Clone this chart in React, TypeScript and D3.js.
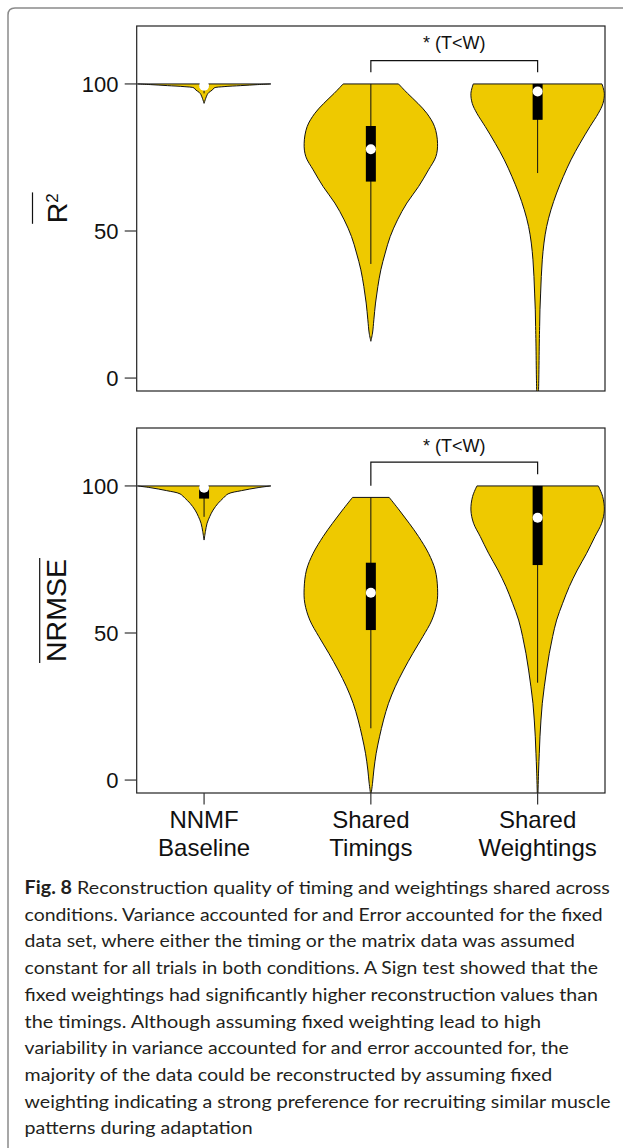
import React from "react";
import * as d3 from "d3";

// categories on the x axis (two lines each)
const categories = [
  ["NNMF", "Baseline"],
  ["Shared", "Timings"],
  ["Shared", "Weightings"],
];
const yTicks = [0, 50, 100];

// violin outlines: [value, relative half width]
const r2Baseline = [
  [100, 1.0], [99.77, 0.8], [99.43, 0.55], [99.09, 0.3], [98.64, 0.15],
  [97.96, 0.125], [97.17, 0.075], [96.48, 0.05], [95.13, 0.025], [93.4, 0],
];
const r2Timings = [
  [100, 0.415], [96.8, 0.55], [93.4, 0.705], [90.0, 0.84], [85.5, 0.955],
  [79.8, 1.0], [75.3, 0.975], [70.8, 0.865], [65.1, 0.715], [59.5, 0.54],
  [53.8, 0.4], [48.1, 0.29], [42.5, 0.215], [36.8, 0.15], [31.1, 0.105],
  [25.5, 0.07], [19.8, 0.045], [15.3, 0.025], [12.5, 0],
];
const r2Weightings = [
  [100, 0.965], [96.8, 1.0], [93.4, 0.98], [90.0, 0.91], [85.5, 0.785],
  [79.8, 0.635], [74.2, 0.5], [68.5, 0.385], [62.9, 0.285], [57.2, 0.2],
  [51.5, 0.135], [45.9, 0.095], [40.2, 0.07], [34.5, 0.055], [28.9, 0.045],
  [23.2, 0.035], [17.5, 0.03], [11.9, 0.025], [0, 0.018], [-6, 0.012],
];
const nrmseBaseline = [
  [100, 1.0], [99.43, 0.81], [98.4, 0.56], [97.3, 0.36], [95.8, 0.285],
  [94.1, 0.21], [91.8, 0.135], [89.6, 0.085], [87.3, 0.045], [84.5, 0.02], [81.6, 0],
];
const nrmseTimings = [
  [96.1, 0.275], [91.8, 0.425], [87.3, 0.575], [82.8, 0.715], [77.1, 0.865],
  [71.4, 0.965], [65.2, 1.0], [60.1, 0.99], [54.4, 0.915], [48.8, 0.78],
  [43.1, 0.63], [37.4, 0.49], [31.7, 0.365], [26.1, 0.265], [20.4, 0.19],
  [14.7, 0.13], [9.1, 0.08], [3.4, 0.045], [-1.1, 0.025], [-4.6, 0.005],
];
const nrmseWeightings = [
  [100, 0.91], [96.4, 0.975], [91.8, 1.0], [87.3, 0.96], [82.8, 0.86],
  [77.1, 0.735], [71.4, 0.595], [65.8, 0.475], [60.1, 0.375], [54.4, 0.285],
  [48.8, 0.225], [43.1, 0.175], [37.4, 0.135], [31.7, 0.1], [26.1, 0.07],
  [20.4, 0.05], [14.7, 0.035], [9.1, 0.025], [3.4, 0.015], [-4.6, 0.005],
];

// boxplot stats: [q1, median, q3, whisker low, whisker high]
const r2Boxes = [
  [99.1, 99.4, 100, 96.8, 100],
  [66.8, 77.8, 85.7, 38.8, 100],
  [87.8, 97.4, 100, 69.7, 100],
];
const nrmseBoxes = [
  [95.7, 99.4, 100, 89.5, 100],
  [51.0, 63.7, 73.9, 17.6, 96.1],
  [73.1, 89.2, 100, 33.1, 100],
];

// significance bracket: [left leg end, bar, right leg end, label]
const r2Bracket = [104, 107.9, 104, 111.8];
const nrmseBracket = [100.1, 108.1, 104, 111.7];
const sigLabel = "* (T<W)";

const captionLines = [
  "Reconstruction quality of timing and weightings shared across",
  "conditions. Variance accounted for and Error accounted for the fixed",
  "data set, where either the timing or the matrix data was assumed",
  "constant for all trials in both conditions. A Sign test showed that the",
  "fixed weightings had significantly higher reconstruction values than",
  "the timings. Although assuming fixed weighting lead to high",
  "variability in variance accounted for and error accounted for, the",
  "majority of the data could be reconstructed by assuming fixed",
  "weighting indicating a strong preference for recruiting similar muscle",
  "patterns during adaptation",
];
const captionWidths = [585.3, 578.1, 550.3, 573.3, 573.3, 516.5, 544.3, 527.6, 586, 228.1];

const W = 623;
const H = 1148;
const plotLeft = 136.7;
const plotRight = 605;
const panelHeight = 365;
const yDomain = [-4.4, 119.7];
const halfWidth = 0.4;
const gold = "#EEC900";
const font = "'Liberation Sans', Arial, Helvetica, sans-serif";

const x = d3.scaleLinear().domain([0.596, 3.404]).range([plotLeft, plotRight]);

function Panel({ id, top, profiles, boxes, bracket, showX, title }) {
  const y = d3.scaleLinear().domain(yDomain).range([top + panelHeight, top]);
  const area = (pos) =>
    d3
      .area()
      .y((d) => y(d[0]))
      .x0((d) => x(pos - d[1] * halfWidth))
      .x1((d) => x(pos + d[1] * halfWidth))
      .curve(d3.curveCatmullRom);
  const midY = top + panelHeight / 2;
  const [legL, bar, legR, lab] = bracket;

  return (
    <g>
      <clipPath id={id}>
        <rect x={plotLeft} y={top} width={plotRight - plotLeft} height={panelHeight} />
      </clipPath>
      <g clipPath={`url(#${id})`}>
        {profiles.map((p, i) => (
          <path key={i} d={area(i + 1)(p)} fill={gold} stroke="#111" strokeWidth={1} strokeLinejoin="round" />
        ))}
        {boxes.map((b, i) => {
          const cx = x(i + 1);
          return (
            <g key={i}>
              <line x1={cx} x2={cx} y1={y(b[3])} y2={y(b[4])} stroke="#111" strokeWidth={1} />
              <rect x={cx - 5} y={y(b[2])} width={10} height={y(b[0]) - y(b[2])} fill="#000" />
              <circle cx={cx} cy={y(b[1])} r={5} fill="#fff" />
            </g>
          );
        })}
      </g>
      <rect x={plotLeft} y={top} width={plotRight - plotLeft} height={panelHeight} fill="none" stroke="#222" strokeWidth={1.2} />
      {yTicks.map((t) => (
        <g key={t}>
          <line x1={plotLeft - 12} x2={plotLeft} y1={y(t)} y2={y(t)} stroke="#333" strokeWidth={1.2} />
          <text x={118.5} y={y(t)} dy="0.36em" textAnchor="end" fontSize={22} fontFamily={font} fill="#111">
            {t}
          </text>
        </g>
      ))}
      <path
        d={`M${x(2)},${y(legL)}V${y(bar)}H${x(3)}V${y(legR)}`}
        fill="none"
        stroke="#111"
        strokeWidth={1.2}
      />
      <text x={(x(2) + x(3)) / 2} y={y(lab)} textAnchor="middle" fontSize={18} fontFamily={font} fill="#111">
        {sigLabel}
      </text>
      {title === "R2" ? (
        <g transform={`translate(66.5,${midY - 0.3}) rotate(-90)`} fontFamily={font} fill="#111">
          <text x={0} y={0} textAnchor="middle" fontSize={28.5}>
            R<tspan fontSize={17} dy={-8.4}>2</tspan>
          </text>
          <line x1={-15.6} x2={15.8} y1={-34} y2={-34} stroke="#111" strokeWidth={1.2} />
        </g>
      ) : (
        <g transform={`translate(65.6,${midY})`} fontFamily={font} fill="#111">
          <text transform="rotate(-90)" x={0} y={0} textAnchor="middle" fontSize={28.5}>
            {title}
          </text>
          <line x1={-25.9} x2={-25.9} y1={-52.5} y2={52.5} stroke="#111" strokeWidth={1.2} />
        </g>
      )}
      {showX &&
        categories.map((c, i) => (
          <g key={i}>
            <line x1={x(i + 1)} x2={x(i + 1)} y1={top + panelHeight} y2={top + panelHeight + 11.5} stroke="#333" strokeWidth={1.2} />
            <text x={x(i + 1)} y={827.7} textAnchor="middle" fontSize={24} fontFamily={font} fill="#111">
              {c[0]}
            </text>
            <text x={x(i + 1)} y={856} textAnchor="middle" fontSize={24} fontFamily={font} fill="#111">
              {c[1]}
            </text>
          </g>
        ))}
    </g>
  );
}

export default function App() {
  return (
    <svg
      width={W}
      height={H}
      viewBox={`0 0 ${W} ${H}`}
      style={{ position: "absolute", left: 0, top: 0, background: "#fff" }}
    >
      <rect width={W} height={H} fill="#fff" />
      <path d={`M8,${H + 10}V15Q8,8 15,8H${W + 10}`} fill="none" stroke="#8a8a8a" strokeWidth={1.5} />
      <Panel
        id="clipTop"
        top={26}
        profiles={[r2Baseline, r2Timings, r2Weightings]}
        boxes={r2Boxes}
        bracket={r2Bracket}
        showX={false}
        title="R2"
      />
      <Panel
        id="clipBottom"
        top={428}
        profiles={[nrmseBaseline, nrmseTimings, nrmseWeightings]}
        boxes={nrmseBoxes}
        bracket={nrmseBracket}
        showX={true}
        title="NRMSE"
      />
      <g fontFamily="Lato, 'Open Sans', sans-serif" fontSize={18} fill="#231F20">
        {captionLines.map((line, i) => (
          <text
            key={i}
            x={24.6}
            y={894 + i * 26.7}
            textLength={captionWidths[i]}
            lengthAdjust="spacingAndGlyphs"
          >
            {i === 0 ? (
              <>
                <tspan fontWeight={700}>Fig. 8</tspan> {line}
              </>
            ) : (
              line
            )}
          </text>
        ))}
      </g>
    </svg>
  );
}
